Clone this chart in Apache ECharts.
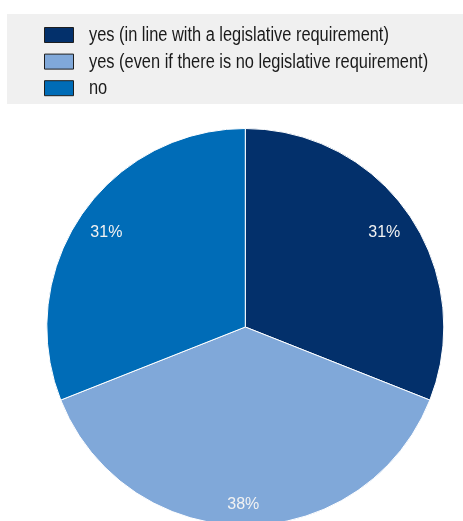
<!DOCTYPE html>
<html>
<head>
<meta charset="utf-8">
<title>Pie chart</title>
<script src="https://cdn.jsdelivr.net/npm/echarts@6/dist/echarts.min.js"></script>
<style>
  html, body { margin: 0; padding: 0; background: #ffffff; }
  #chart { width: 463px; height: 521px; }
</style>
</head>
<body>
<div id="chart"></div>
<script>
// Answer categories and their shares (percent)
const categories = [
  'yes (in line with a legislative requirement)',
  'yes (even if there is no legislative requirement)',
  'no'
];
const shares = [31, 38, 31];
const sliceColors = ['#03306B', '#80A8D9', '#006CB7'];

const baseFont = "'Liberation Sans', Arial, sans-serif";

const pieCenter = [245.3, 327];
const pieRadius = 198.5;

const chart = echarts.init(document.getElementById('chart'), null, { renderer: 'canvas' });

const sliceData = categories.map((name, i) => ({
  name: name,
  value: shares[i],
  itemStyle: { color: sliceColors[i] }
}));

// transparent ring that only carries the percentage labels
const labelData = categories.map((name, i) => ({
  name: name,
  value: shares[i],
  label: i === 1 ? { offset: [-2, 10] } : {}
}));

// key box: grey panel with a swatch and a condensed caption per category
const ROW_TOP = 27, ROW_STEP = 26.6;
const keyItems = [];
categories.forEach((name, i) => {
  const y = ROW_TOP + ROW_STEP * i;
  keyItems.push({
    type: 'rect',
    z: 2,
    shape: { x: 44.5, y: y + 0.5, width: 29, height: 15 },
    style: { fill: sliceColors[i], stroke: '#1e1e1e', lineWidth: 1 }
  });
  keyItems.push({
    type: 'text',
    z: 2,
    x: 89,
    y: y + 8.6,
    scaleX: 0.82,
    style: {
      text: name,
      font: '20px ' + baseFont,
      fill: '#1a1a1a',
      textAlign: 'left',
      textVerticalAlign: 'middle',
      verticalAlign: 'middle'
    }
  });
});

chart.setOption({
  animation: false,
  graphic: [{
    type: 'rect',
    z: 0,
    shape: { x: 7, y: 14, width: 456, height: 90 },
    style: { fill: '#F0F0F0' }
  }].concat(keyItems),
  series: [
    {
      type: 'pie',
      center: pieCenter,
      radius: pieRadius,
      startAngle: 90,
      clockwise: true,
      silent: true,
      itemStyle: { borderColor: '#ffffff', borderWidth: 1 },
      label: { show: false },
      labelLine: { show: false },
      data: sliceData
    },
    {
      type: 'pie',
      center: pieCenter,
      radius: [131.5, pieRadius],
      startAngle: 90,
      clockwise: true,
      silent: true,
      itemStyle: { color: 'rgba(0,0,0,0)', borderWidth: 0 },
      label: {
        show: true,
        position: 'inside',
        formatter: '{c}%',
        fontFamily: baseFont,
        fontSize: 16,
        color: '#F2F2F2'
      },
      labelLine: { show: false },
      data: labelData
    }
  ]
});
</script>
</body>
</html>
